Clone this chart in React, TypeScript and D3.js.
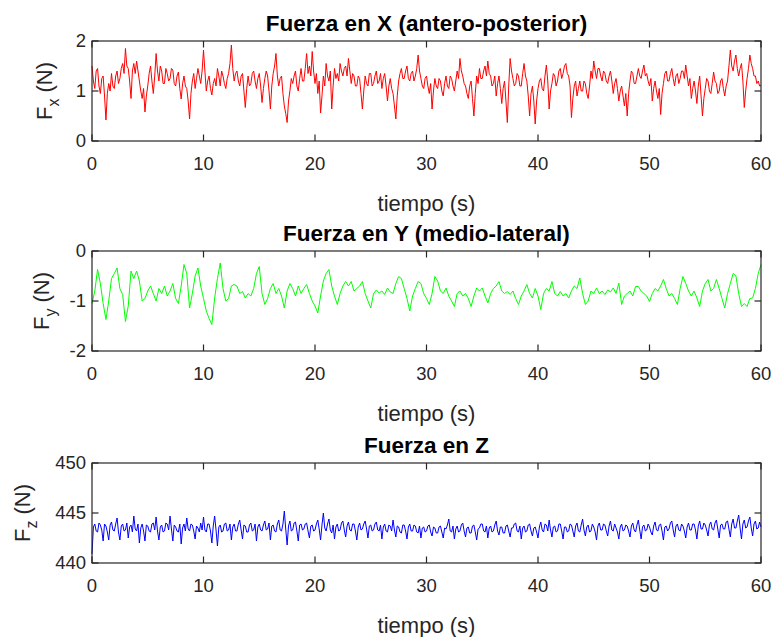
import React from "react";
import * as d3 from "d3";

const WIDTH = 773;
const HEIGHT = 637;

// seconds between samples
const FX_STEP = 0.125;
const FY_STEP = 0.25;
const FZ_STEP = 0.125;

// Fuerza en X (N), one row per second
const fx = [
  1.5, 1.2, 1.05, 1.4, 1.45, 1.1, 0.95, 1.25,
  1.3, 0.9, 0.42, 0.95, 1.15, 1.0, 1.35, 1.1,
  1.05, 1.3, 1.4, 1.15, 1.25, 1.45, 1.55, 1.35,
  1.85, 1.5, 1.45, 1.2, 0.85, 1.4, 1.55, 1.35,
  1.6, 1.4, 1.2, 1.0, 0.85, 1.05, 0.58, 0.9,
  1.1, 1.35, 1.5, 1.2, 0.95, 1.3, 1.75, 1.4,
  1.2, 1.5, 1.4, 1.15, 1.15, 1.45, 1.35, 1.2,
  1.25, 1.45, 1.42, 1.15, 1.1, 1.3, 1.38, 1.05,
  0.84, 1.15, 1.3, 1.1, 1.05, 0.8, 0.44, 0.95,
  1.2, 1.35, 1.05, 1.25, 1.45, 1.3, 1.15, 1.4,
  1.82, 1.4, 1.0, 1.2, 1.3, 1.05, 0.92, 1.15,
  1.25, 1.1, 1.45, 1.3, 1.1, 1.4, 1.3, 1.15,
  1.05, 1.25, 1.35, 1.55, 1.92, 1.45, 1.2, 1.35,
  1.4, 1.2, 1.1, 1.3, 1.35, 1.0, 0.67, 1.05,
  1.3, 1.1, 1.15, 1.35, 1.4, 1.2, 1.05, 1.25,
  1.35, 1.1, 0.77, 1.05, 1.25, 1.4, 1.3, 1.0,
  0.64, 1.1, 1.35, 1.5, 1.75, 1.3, 1.1, 1.25,
  1.3, 0.95, 0.7, 0.55, 0.37, 0.8, 1.0, 1.25,
  1.15, 1.3, 1.4, 1.1, 1.0, 1.25, 1.45, 1.2,
  1.2, 1.45, 1.75, 1.35, 1.5, 1.3, 1.79, 1.4,
  1.15, 1.35, 0.95, 1.2, 0.56, 0.9, 1.3, 1.1,
  1.55, 1.3, 1.2, 1.4, 0.64, 1.1, 1.45, 1.25,
  1.35, 1.2, 1.55, 1.4, 1.3, 1.45, 1.5, 1.3,
  1.65, 1.4, 1.15, 1.35, 1.3, 1.1, 1.1, 1.3,
  1.25, 0.95, 0.64, 1.0, 1.3, 1.15, 1.1, 1.35,
  1.35, 1.1, 1.15, 1.3, 1.4, 1.15, 1.2, 1.35,
  1.05, 1.25, 1.35, 1.1, 0.8, 1.1, 1.25, 1.05,
  0.95, 0.7, 0.44, 0.9, 1.2, 1.35, 1.45, 1.25,
  1.25, 1.4, 1.5, 1.25, 1.2, 1.35, 1.4, 1.2,
  1.3, 1.45, 1.72, 1.4, 1.25, 1.1, 1.05, 1.25,
  1.3, 1.1, 0.95, 1.15, 0.64, 1.0, 1.25, 1.1,
  1.05, 1.25, 1.2, 1.0, 0.9, 1.15, 1.3, 1.1,
  1.05, 1.3, 1.25, 1.1, 1.0, 1.2, 1.4, 1.25,
  1.65, 1.4, 1.3, 1.15, 1.1, 0.95, 0.85, 1.1,
  1.2, 0.85, 0.5, 0.95, 1.3, 1.15, 1.45, 1.25,
  1.25, 1.4, 1.5, 1.3, 1.6, 1.35, 1.3, 1.1,
  1.15, 1.3, 0.9, 1.15, 1.3, 1.05, 0.75, 1.05,
  1.2, 0.8, 0.37, 1.1, 1.65, 1.4, 1.25, 1.1,
  1.15, 1.35, 1.3, 1.1, 1.1, 1.35, 1.55, 1.3,
  1.2, 0.9, 0.5, 0.95, 1.1, 0.8, 0.34, 0.8,
  1.05, 1.2, 1.25, 1.05, 1.0, 1.3, 1.52, 1.2,
  0.64, 1.0, 1.15, 1.35, 1.3, 1.1, 1.2, 1.4,
  1.45, 1.25, 1.35, 1.5, 1.55, 1.35, 1.3, 1.1,
  0.47, 0.85, 1.1, 1.2, 0.9, 1.05, 1.2, 1.0,
  1.0, 1.2, 1.15, 0.95, 0.85, 1.1, 1.4, 1.25,
  1.6, 1.4, 1.25, 1.45, 1.45, 1.3, 1.2, 1.4,
  1.35, 1.2, 1.15, 1.3, 1.4, 1.2, 0.95, 1.15,
  1.25, 1.05, 0.8, 1.0, 1.1, 0.9, 0.7, 0.95,
  0.5, 0.95, 1.2, 1.4, 1.35, 1.15, 1.15, 1.3,
  1.45, 1.3, 1.25, 1.4, 1.52, 1.3, 1.35, 1.2,
  1.1, 1.25, 0.8, 1.05, 1.2, 1.0, 0.85, 1.05,
  0.53, 0.95, 1.15, 1.35, 1.4, 1.2, 1.2, 1.35,
  1.45, 1.25, 1.1, 1.3, 1.35, 1.15, 1.25, 1.4,
  1.4, 1.25, 1.52, 1.3, 1.1, 1.25, 0.85, 1.05,
  1.2, 1.0, 0.75, 1.1, 1.3, 0.9, 0.5, 0.85,
  1.05, 1.25, 1.2, 1.0, 0.95, 1.15, 1.38, 1.2,
  1.15, 0.95, 1.0, 1.2, 1.25, 1.05, 0.9, 1.1,
  1.2, 1.5, 1.82, 1.5, 1.4, 1.6, 1.72, 1.45,
  1.3, 1.45, 1.55, 1.2, 0.67, 1.0, 1.25, 1.45,
  1.72, 1.55, 1.45, 1.3, 1.3, 1.15, 1.2, 1.1,
  1.11,
];

// Fuerza en Y (N), one row per second
const fy = [
  -1.05, -0.8, -0.37, -0.65,
  -1.05, -1.37, -1.0, -0.55,
  -0.45, -0.34, -0.75, -0.87,
  -1.41, -1.1, -0.4, -0.55,
  -0.4, -0.6, -1.0, -0.95,
  -0.8, -0.7, -0.85, -1.0,
  -0.75, -0.85, -0.7, -0.9,
  -0.8, -0.65, -0.95, -1.05,
  -0.7, -0.27, -0.45, -1.14,
  -0.85, -0.5, -0.34, -0.7,
  -0.95, -1.2, -1.35, -1.47,
  -0.94, -0.55, -0.24, -0.75,
  -1.0, -0.95, -0.7, -0.67,
  -0.7, -0.85, -0.81, -0.94,
  -0.85, -0.9, -0.75, -0.45,
  -0.31, -0.85, -1.07, -0.95,
  -0.75, -0.65, -0.85, -0.75,
  -0.9, -1.14, -0.8, -0.65,
  -0.75, -0.9, -0.7, -0.85,
  -0.75, -0.67, -0.85, -1.0,
  -1.1, -1.24, -0.9, -0.6,
  -0.45, -0.37, -0.7, -0.9,
  -1.07, -0.85, -0.7, -0.61,
  -0.7, -0.61, -0.8, -0.75,
  -0.7, -0.61, -0.85, -1.0,
  -1.14, -0.85, -0.78, -0.84,
  -0.8, -0.87, -0.74, -0.82,
  -0.85, -0.65, -0.51, -0.55,
  -0.75, -0.95, -1.2, -0.9,
  -0.75, -0.61, -0.65, -0.85,
  -0.95, -1.07, -0.85, -0.51,
  -0.6, -0.8, -0.85, -0.74,
  -0.9, -1.0, -1.11, -0.85,
  -0.8, -0.9, -0.85, -0.95,
  -1.11, -0.9, -0.74, -0.8,
  -0.74, -0.9, -1.04, -0.85,
  -0.75, -0.7, -0.61, -0.8,
  -0.85, -0.81, -0.87, -0.8,
  -0.95, -1.07, -0.9, -0.8,
  -0.67, -0.85, -0.94, -0.75,
  -0.9, -1.17, -0.85, -0.75,
  -0.8, -0.61, -0.85, -0.9,
  -0.81, -0.9, -0.85, -0.94,
  -0.8, -0.7, -0.75, -0.54,
  -0.85, -1.07, -1.0, -0.8,
  -0.85, -0.74, -0.85, -0.8,
  -0.87, -0.78, -0.82, -0.74,
  -0.85, -0.64, -1.07, -0.9,
  -0.85, -0.8, -0.9, -0.71,
  -0.71, -0.8, -0.85, -0.9,
  -1.01, -0.85, -0.75, -0.8,
  -0.7, -0.57, -0.75, -0.9,
  -0.85, -0.95, -1.07, -0.75,
  -0.51, -0.65, -0.8, -0.9,
  -0.8, -0.94, -1.11, -0.8,
  -0.65, -0.57, -0.8, -0.75,
  -0.57, -0.75, -0.95, -1.14,
  -0.85, -0.65, -0.45, -0.5,
  -0.85, -1.11, -1.05, -1.11,
  -0.95, -0.94, -0.75, -0.45,
  -0.27,
];

// Fuerza en Z (N), one row per second
const fz = [
  440.9, 443.6, 443.9, 443.2, 443.1, 444.0, 443.8, 443.3,
  442.2, 443.9, 443.7, 443.1, 442.3, 443.8, 444.1, 443.3,
  443.2, 443.9, 444.5, 443.1, 442.3, 443.7, 443.9, 443.2,
  443.3, 444.0, 442.5, 443.6, 443.8, 443.1, 444.7, 443.4,
  443.2, 443.9, 442.0, 443.5, 443.9, 443.2, 442.2, 443.8,
  443.7, 443.2, 443.1, 443.9, 444.0, 443.3, 444.6, 443.2,
  442.3, 443.6, 443.8, 443.1, 443.2, 444.0, 443.9, 443.3,
  444.7, 443.4, 442.2, 443.8, 443.6, 443.2, 443.1, 443.9,
  441.9, 443.5, 443.9, 443.2, 444.5, 443.4, 443.2, 443.9,
  443.8, 443.2, 442.4, 443.7, 443.5, 443.1, 444.0, 443.3,
  444.6, 443.3, 443.1, 443.9, 443.9, 443.2, 442.0, 443.7,
  444.7, 443.3, 441.7, 443.6, 443.8, 443.1, 443.2, 443.9,
  444.0, 443.2, 443.3, 443.9, 442.3, 443.6, 443.9, 443.2,
  443.2, 443.9, 444.3, 443.3, 442.4, 443.8, 443.7, 443.1,
  443.1, 443.8, 444.0, 443.2, 443.3, 443.9, 442.2, 443.6,
  443.9, 443.3, 443.2, 443.8, 444.2, 443.3, 443.4, 444.0,
  442.3, 443.7, 443.8, 443.2, 443.1, 443.9, 444.3, 443.3,
  443.2, 443.9, 445.2, 443.4, 441.8, 443.7, 444.2, 443.2,
  443.3, 444.0, 444.1, 443.2, 442.2, 443.8, 443.9, 443.3,
  443.4, 443.9, 444.0, 443.2, 442.5, 443.7, 443.8, 443.2,
  443.3, 443.9, 444.3, 443.4, 442.3, 443.8, 445.0, 443.5,
  443.2, 443.9, 444.4, 443.3, 443.0, 443.8, 442.4, 443.6,
  443.9, 443.2, 443.3, 444.0, 444.2, 443.3, 442.6, 443.7,
  444.1, 443.3, 443.2, 443.9, 443.9, 443.2, 442.3, 443.6,
  444.0, 443.3, 443.4, 443.9, 444.2, 443.4, 442.5, 443.7,
  443.8, 443.2, 443.3, 443.9, 444.1, 443.3, 443.2, 443.8,
  442.4, 443.6, 443.9, 443.2, 443.1, 443.8, 443.7, 443.2,
  444.3, 443.3, 442.6, 443.7, 443.6, 443.1, 443.0, 443.8,
  443.8, 443.2, 442.4, 443.6, 443.9, 443.2, 443.2, 443.8,
  443.7, 443.1, 443.0, 443.7, 442.5, 443.5, 443.6, 443.1,
  443.2, 443.7, 443.8, 443.1, 442.7, 443.6, 443.5, 443.0,
  443.0, 443.6, 443.7, 443.1, 442.5, 443.5, 443.4, 443.8,
  444.4, 443.2, 443.1, 443.7, 442.4, 443.4, 443.7, 443.1,
  443.2, 443.8, 444.0, 443.2, 442.6, 443.5, 443.6, 443.0,
  443.0, 443.7, 443.8, 443.1, 442.3, 443.4, 443.5, 443.9,
  443.9, 443.2, 443.1, 443.7, 442.5, 443.5, 443.7, 443.1,
  443.2, 443.8, 444.2, 443.2, 442.8, 443.6, 443.6, 443.0,
  443.0, 443.7, 443.8, 443.2, 442.6, 443.5, 443.5, 443.9,
  444.0, 443.2, 443.1, 443.7, 442.4, 443.5, 443.7, 443.1,
  443.2, 443.8, 443.9, 443.2, 442.7, 443.5, 443.6, 443.1,
  442.5, 443.6, 444.1, 443.3, 443.1, 443.9, 443.8, 443.2,
  444.3, 443.3, 442.6, 443.6, 443.7, 443.1, 443.2, 443.9,
  443.9, 443.2, 442.4, 443.6, 443.6, 443.1, 443.2, 443.9,
  443.8, 443.2, 442.6, 443.7, 444.0, 443.2, 443.1, 443.8,
  444.4, 443.3, 442.7, 443.6, 443.8, 443.1, 443.2, 443.9,
  443.6, 443.1, 442.3, 443.7, 444.0, 443.3, 443.3, 443.9,
  443.8, 443.2, 442.7, 443.7, 444.2, 443.3, 443.2, 443.9,
  443.5, 443.1, 442.4, 443.6, 443.9, 443.2, 443.3, 443.8,
  443.7, 443.2, 442.6, 443.7, 444.0, 443.3, 443.1, 443.8,
  444.3, 443.3, 442.4, 443.6, 443.8, 443.2, 443.3, 443.9,
  443.6, 443.1, 442.8, 443.7, 444.1, 443.3, 443.2, 443.8,
  443.9, 443.2, 442.3, 443.6, 443.7, 443.2, 443.4, 444.0,
  444.2, 443.3, 442.6, 443.7, 443.9, 443.3, 443.2, 443.9,
  443.7, 443.2, 442.5, 443.6, 444.0, 443.3, 443.3, 443.9,
  443.9, 443.3, 442.4, 443.7, 444.2, 443.4, 443.4, 444.0,
  443.8, 443.3, 442.7, 443.8, 444.1, 443.4, 443.3, 444.0,
  444.3, 443.4, 442.5, 443.8, 443.9, 443.4, 443.4, 444.1,
  444.2, 443.4, 442.6, 443.9, 444.4, 443.5, 443.5, 444.2,
  444.8, 443.5, 442.4, 443.9, 444.3, 443.5, 443.6, 444.2,
  444.6, 443.5, 442.7, 443.9, 444.2, 443.4, 443.5, 444.1,
  443.6,
];

const xTicks = [0, 10, 20, 30, 40, 50, 60];
const fxTicks = [0, 1, 2];
const fyTicks = [-2, -1, 0];
const fzTicks = [440, 445, 450];
const titles = [
  "Fuerza en X (antero-posterior)",
  "Fuerza en Y (medio-lateral)",
  "Fuerza en Z",
];
const subs = ["x", "y", "z"];
const xLabel = "tiempo (s)";

const LEFT = 92;
const RIGHT = 761;
const BOX_H = 100;
const TICK = 6.5;
const AX = "#262626";
const FONT = "'Liberation Sans', Arial, Helvetica, sans-serif";

const panels = [
  { values: fx, step: FX_STEP, ticks: fxTicks, domain: [0, 2], color: "#ff0000", top: 41, labelX: 52 },
  { values: fy, step: FY_STEP, ticks: fyTicks, domain: [-2, 0], color: "#00ff00", top: 251, labelX: 49 },
  { values: fz, step: FZ_STEP, ticks: fzTicks, domain: [440, 450], color: "#0000ff", top: 463, labelX: 30 },
];

const x = d3.scaleLinear().domain([0, 60]).range([LEFT, RIGHT]);

function Panel({ p, i }) {
  const bottom = p.top + BOX_H;
  const y = d3.scaleLinear().domain(p.domain).range([bottom, p.top]);
  const line = d3
    .line<number>()
    .x((_, k) => x(k * p.step))
    .y((d) => y(d));
  const midY = (p.top + bottom) / 2;

  return (
    <g>
      <path d={line(p.values) || ""} fill="none" stroke={p.color} strokeWidth={1} />
      <rect x={LEFT} y={p.top} width={RIGHT - LEFT} height={BOX_H} fill="none" stroke={AX} strokeWidth={1.2} />
      {xTicks.map((t) => (
        <g key={"x" + t}>
          <line x1={x(t)} x2={x(t)} y1={bottom} y2={bottom - TICK} stroke={AX} strokeWidth={1.2} />
          <line x1={x(t)} x2={x(t)} y1={p.top} y2={p.top + TICK} stroke={AX} strokeWidth={1.2} />
          <text x={x(t)} y={bottom + 23} dy="0.35em" textAnchor="middle" fontSize={18.5} fill={AX}>
            {t}
          </text>
        </g>
      ))}
      {p.ticks.map((t) => (
        <g key={"y" + t}>
          <line x1={LEFT} x2={LEFT + TICK} y1={y(t)} y2={y(t)} stroke={AX} strokeWidth={1.2} />
          <line x1={RIGHT} x2={RIGHT - TICK} y1={y(t)} y2={y(t)} stroke={AX} strokeWidth={1.2} />
          <text x={LEFT - 6} y={y(t)} dy="0.35em" textAnchor="end" fontSize={18.5} fill={AX}>
            {t}
          </text>
        </g>
      ))}
      <text x={(LEFT + RIGHT) / 2} y={bottom + 62} dy="0.35em" textAnchor="middle" fontSize={22} fill={AX}>
        {xLabel}
      </text>
      <text x={(LEFT + RIGHT) / 2} y={p.top - 10} textAnchor="middle" fontSize={22.5} fontWeight="bold" fill="#000">
        {titles[i]}
      </text>
      <text transform={`translate(${p.labelX},${midY}) rotate(-90)`} textAnchor="middle" fontSize={22} fill={AX}>
        F
        <tspan fontSize={16} dy={7}>{subs[i]}</tspan>
        <tspan dy={-7}>{" (N)"}</tspan>
      </text>
    </g>
  );
}

export default function App() {
  return (
    <svg
      width={WIDTH}
      height={HEIGHT}
      style={{ position: "absolute", left: 0, top: 0, background: "#fff" }}
      fontFamily={FONT}
    >
      <rect width={WIDTH} height={HEIGHT} fill="#fff" />
      {panels.map((p, i) => (
        <Panel key={i} p={p} i={i} />
      ))}
    </svg>
  );
}
